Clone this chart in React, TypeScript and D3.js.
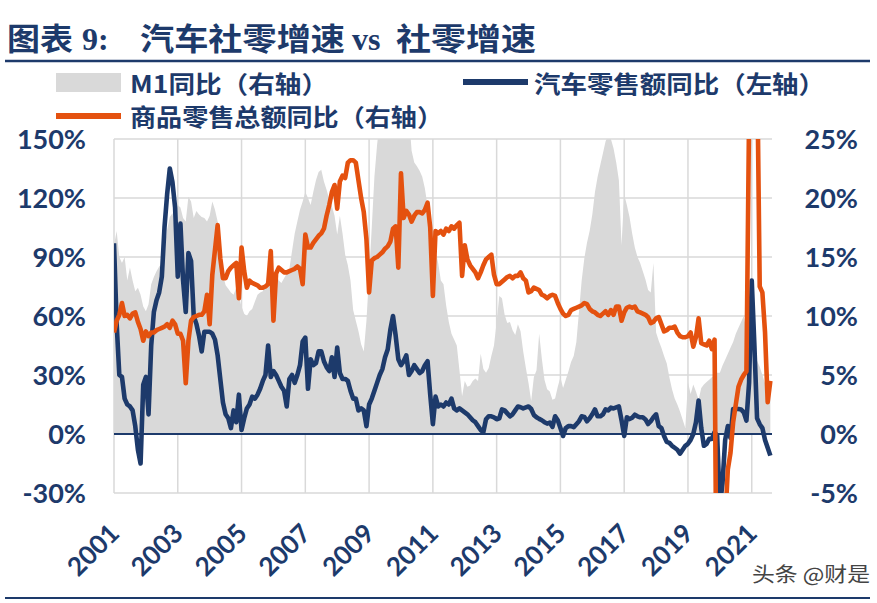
// App.tsx
import React from "react";
import * as d3 from "d3";

// monthly points, Jan 2001 … Aug 2021 (one row per year)
const autoSalesYoY = [
  97, 56, 30, 29, 18, 15, 14, 12, 4, -8, -15, 25,
  29, 10, 45, 62, 68, 72, 80, 105, 122, 135, 128, 115,
  80, 107, 78, 62, 92, 88, 60, 56, 50, 42, 52, 52,
  52, 51, 48, 40, 28, 16, 10, 8, 3, 12, 6, 20,
  2, 8, 13, 15, 19, 18, 20, 23, 27, 30, 45, 29,
  32, 30, 27, 24, 22, 14, 28, 30, 26, 30, 35, 47,
  49, 23, 38, 35, 36, 42, 42, 37, 34, 32, 39, 29,
  44, 31, 28, 28, 27, 22, 18, 18, 12, 13, 12, 4,
  15, 18, 22, 26, 30, 33, 39, 43, 53, 60, 50, 38,
  35, 37, 40, 30, 32, 35, 33, 31, 32, 35, 37, 20,
  5, 19, 14, 15, 14, 16, 15, 18, 13, 12, 13, 12,
  11, 10, 8.5, 7, 6, 4, 2, 1, 7.5, 9, 9, 8.5,
  7.5, 8, 12.5, 12, 10.5, 9, 10, 12, 14, 13.6, 13, 13.5,
  14, 12.7, 9.7, 8.5, 7.7, 7, 6, 5.3, 5.8, 3.6, 9, 7,
  3, -1, 3, 4, 4, 3.5, 5, 6.5, 9, 8.7, 6.5, 8,
  10, 12.5, 9, 9, 10, 12.5, 12, 13.4, 13, 13.5, 14, 7,
  -1, 8.5, 7.6, 8.3, 9.8, 9, 8.5, 8.5, 7.4, 5.1, 6.5, 8.5,
  10, 4, 3, -1, -4, -4.5, -6, -7, -8, -10, -8, -6,
  -5, -3, 0, 6, 17, 3, -6, -5, -2.5, -2.5, 1, -1,
  -37, -25, -3, 4, -2, 12.7, 12.7, 12.7, 12.5, 11, 6.8, 26,
  78, 45, 8, 5, 3, -3, -7, -11,
];

const retailSalesYoY = [
  8.6, 9.6, 10.1, 11.1, 10.0, 10.1, 9.8, 10.2, 10.3, 9.5, 8.9, 7.9,
  8.7, 8.3, 8.6, 8.6, 8.8, 8.9, 9.0, 9.1, 9.3, 9.0, 9.6, 9.3,
  8.5, 8.5, 7.9, 4.3, 7.9, 9.6, 9.9, 10.0, 10.1, 10.1, 10.4, 11.8,
  9.3, 13.5, 15.6, 17.7, 14.9, 13.2, 13.2, 13.8, 14.1, 14.3, 14.5, 11.5,
  15.8, 13.8, 12.4, 13.0, 12.8, 12.7, 12.6, 12.4, 12.4, 12.5, 12.7, 15.5,
  9.6, 13.6, 14.1, 13.9, 13.7, 13.7, 13.8, 13.9, 14.0, 14.2, 14.0, 12.7,
  16.9, 15.8, 15.8, 16.2, 16.5, 16.8, 17.0, 17.4, 18.5, 19.4, 20.5, 21.1,
  19.1, 21.4, 21.9, 21.7, 23.0, 23.2, 23.2, 23.0, 21.5, 20.0, 18.8, 16.5,
  12.0, 14.7, 14.9, 15.0, 15.2, 15.4, 15.7, 15.9, 16.3, 17.4, 17.6, 14.1,
  22.1, 18.3, 18.9, 18.6, 18.0, 18.5, 18.8, 18.8, 18.7, 19.0, 19.6, 17.5,
  11.7, 17.2, 17.0, 17.2, 16.9, 17.4, 17.2, 17.6, 17.4, 17.7, 17.9, 13.4,
  16.0, 14.8, 14.3, 14.0, 13.7, 13.2, 13.7, 14.3, 14.8, 15.0, 15.2, 13.5,
  12.7, 12.7, 12.9, 13.1, 13.3, 13.4, 13.2, 13.4, 13.4, 13.7, 13.2, 13.0,
  12.0, 12.1, 12.4, 12.3, 12.2, 11.8, 11.7, 11.5, 11.7, 11.8, 11.7, 11.1,
  10.6, 10.2, 10.0, 10.1, 10.5, 10.6, 10.7, 10.8, 10.9, 11.1, 11.0, 10.6,
  10.4, 10.3, 10.1, 10.0, 10.2, 10.4, 10.1, 10.5, 10.1, 10.8, 10.8, 9.6,
  10.3, 10.7, 10.8, 10.7, 10.8, 10.4, 10.3, 10.2, 10.1, 9.9, 9.4, 9.5,
  9.8, 9.9, 9.3, 8.7, 8.8, 9.0, 9.0, 9.1, 8.6, 8.3, 8.2, 8.2,
  8.3, 8.6, 7.4, 8.2, 9.8, 7.7, 7.6, 7.5, 7.9, 7.2, 8.0, -20.5,
  -20.5, -15.8, -7.5, -3.0, -1.6, 1.0, 2.5, 4.0, 4.6, 5.0, 5.3, 27,
  34.2, 34.0, 32.0, 12.5, 12.0, 8.6, 2.7, 4.5,
];

const m1YoY = [
  16.0, 17.2, 15.0, 14.5, 15.0, 13.0, 14.1, 13.0, 12.1, 12.4, 11.8, 10.8,
  10.4, 11.0, 12.7, 13.3, 13.8, 14.2, 14.4, 15.8, 17.3, 18.4, 18.7, 17.2,
  19.4, 19.2, 18.3, 18.0, 20.1, 19.7, 18.3, 18.9, 18.6, 18.4, 18.3, 18.0,
  18.5, 19.7, 19.0, 18.0, 15.5, 13.5, 12.6, 12.3, 12.0, 11.8, 12.4, 11.6,
  10.8, 10.2, 10.0, 10.4, 10.6, 11.2, 11.8, 12.0, 12.1, 12.8, 13.1, 13.5,
  13.8, 13.5, 13.0, 12.8, 13.2, 13.6, 14.0, 15.5, 17.0, 18.0, 19.0, 19.7,
  20.5, 20.0, 19.4, 20.5, 21.5, 22.2, 22.4, 21.4, 20.7, 19.9, 19.3, 18.5,
  16.9, 18.5, 17.0, 15.2, 14.3, 13.0, 10.5, 9.6, 8.7, 7.6, 7.0, 9.6,
  13.5, 17.5, 21.8, 24.5, 26.5, 27.5, 28.5, 29.5, 32.0, 34.6, 32.4, 39.0,
  35.0, 30.0, 29.9, 27.0, 24.0, 23.0, 22.7, 22.3, 21.8, 20.8, 19.3, 17.8,
  16.5, 15.5, 14.5, 13.0, 12.7, 10.9, 9.5, 8.5, 8.0, 7.5, 5.4, 3.2,
  4.5, 4.0, 4.1, 4.5, 4.7, 4.5, 6.8, 5.5, 5.2, 5.6, 6.6, 7.5,
  9.5, 11.7, 11.5, 10.1, 9.4, 9.5, 8.8, 8.4, 9.3, 8.7, 7.0, 5.6,
  4.3, 2.8, 4.8, 5.4, 8.5, 6.4, 4.6, 3.8, 3.6, 2.9, 3.0, 4.0,
  4.8, 3.9, 4.6, 5.3, 6.1, 6.6, 7.8, 10.4, 13.0, 14.9, 16.2, 17.2,
  18.6, 20.5, 21.8, 22.8, 23.8, 24.8, 25.3, 25.0, 24.2, 23.0, 21.5, 16.0,
  20.3, 19.4, 18.4, 17.0, 15.8, 15.0, 14.5, 13.8, 13.1, 12.2, 12.0, 14.5,
  8.6, 7.9, 7.3, 6.6, 6.0, 4.8, 3.8, 3.0, 2.5, 1.9, 1.2, 0.5,
  4.4, 3.4, 4.2, 3.6, 2.9, 3.9, 4.2, 4.4, 4.6, 4.8, 5.0, 5.2,
  5.2, 5.8, 6.3, 6.8, 7.3, 7.8, 8.5, 9.0, 9.5, 10.0, 8.8, 7.5,
  7.2, 6.8, 6.2, 5.7, 5.0, 4.3, 4.0, 4.4,
];

const leftTicks = [-30, 0, 30, 60, 90, 120, 150];
const rightTicks = [-5, 0, 5, 10, 15, 20, 25];
const yearLabels = ["2001", "2003", "2005", "2007", "2009", "2011", "2013", "2015", "2017", "2019", "2021"];

const W = 877;
const H = 603;
const PLOT = { left: 114, right: 773, top: 139, bottom: 493 };

const NAVY = "#1d3a6b";
const ORANGE = "#e4510f";
const GREY = "#d9d9d9";
const NUM_FONT = "Lato, 'Open Sans', sans-serif";
const CJK_FONT = "'Noto Sans CJK SC', sans-serif";

export default function App() {
  const xScale = d3.scaleLinear().domain([0, 248]).range([PLOT.left, PLOT.right]);
  const yLeft = d3.scaleLinear().domain([-30, 150]).range([PLOT.bottom, PLOT.top]);
  const yRight = d3.scaleLinear().domain([-5, 25]).range([PLOT.bottom, PLOT.top]);

  const m1Area = d3
    .area<number>()
    .x((_, i) => xScale(i))
    .y0(yRight(0))
    .y1((d) => yRight(d))(m1YoY);

  const autoLine = d3
    .line<number>()
    .x((_, i) => xScale(i))
    .y((d) => yLeft(d))(autoSalesYoY);

  const retailLine = d3
    .line<number>()
    .x((_, i) => xScale(i))
    .y((d) => yRight(d))(retailSalesYoY);

  const gridRight = PLOT.right - 1;

  return (
    <svg
      width={W}
      height={H}
      style={{ position: "absolute", left: 0, top: 0, background: "#fff" }}
    >
      <defs>
        <clipPath id="plot-clip">
          <rect
            x={PLOT.left}
            y={PLOT.top}
            width={PLOT.right - PLOT.left}
            height={PLOT.bottom - PLOT.top}
          />
        </clipPath>
      </defs>

      {/* title */}
      <g fill={NAVY} fontWeight="bold">
        <text x={7} y={50} fontFamily={CJK_FONT} fontSize={31} textLength={66} lengthAdjust="spacingAndGlyphs">
          图表
        </text>
        <text x={82} y={50} fontFamily="'Liberation Serif', serif" fontSize={32}>
          9:
        </text>
        <text x={140} y={50} fontFamily={CJK_FONT} fontSize={31} textLength={205} lengthAdjust="spacingAndGlyphs">
          汽车社零增速
        </text>
        <text x={352} y={50} fontFamily="'Liberation Serif', serif" fontSize={32}>
          vs
        </text>
        <text x={396} y={50} fontFamily={CJK_FONT} fontSize={31} textLength={140} lengthAdjust="spacingAndGlyphs">
          社零增速
        </text>
      </g>
      <line x1={5} x2={870} y1={61} y2={61} stroke={NAVY} strokeWidth={2.5} />

      {/* legend */}
      <g fontFamily={CJK_FONT} fontWeight="bold" fontSize={24} fill={NAVY}>
        <rect x={56} y={73} width={65} height={19} fill={GREY} />
        <text x={130} y={93} textLength={198} lengthAdjust="spacingAndGlyphs">
          M1同比（右轴）
        </text>
        <line x1={463} x2={528} y1={82} y2={82} stroke={NAVY} strokeWidth={6} />
        <text x={534} y={93} textLength={291} lengthAdjust="spacingAndGlyphs">
          汽车零售额同比（左轴）
        </text>
        <line x1={56} x2={121} y1={116} y2={116} stroke={ORANGE} strokeWidth={6} />
        <text x={130} y={126} textLength={313} lengthAdjust="spacingAndGlyphs">
          商品零售总额同比（右轴）
        </text>
      </g>

      {/* grid */}
      <g stroke={GREY} strokeWidth={1.5}>
        {leftTicks.map((t) => (
          <line key={t} x1={PLOT.left} x2={gridRight} y1={yLeft(t)} y2={yLeft(t)} />
        ))}
        {yearLabels.map((y, j) => (
          <line key={y} x1={xScale(j * 24)} x2={xScale(j * 24)} y1={PLOT.top} y2={PLOT.bottom} />
        ))}
      </g>

      {/* series */}
      <g clipPath="url(#plot-clip)">
        <path d={m1Area ?? ""} fill={GREY} />
        <line x1={PLOT.left} x2={gridRight} y1={yLeft(0)} y2={yLeft(0)} stroke={NAVY} strokeWidth={2} />
        <path d={autoLine ?? ""} fill="none" stroke={NAVY} strokeWidth={4.6} strokeLinejoin="round" />
        <path d={retailLine ?? ""} fill="none" stroke={ORANGE} strokeWidth={4.6} strokeLinejoin="round" />
      </g>

      {/* axes labels */}
      <g fontFamily={NUM_FONT} fontWeight="bold" fontSize={27} fill={NAVY}>
        {leftTicks.map((t) => (
          <text key={t} x={86} y={yLeft(t)} dy="0.36em" textAnchor="end">
            {t}%
          </text>
        ))}
        {rightTicks.map((t) => (
          <text key={t} x={858} y={yRight(t)} dy="0.36em" textAnchor="end">
            {t}%
          </text>
        ))}
      </g>
      <g fontFamily={NUM_FONT} fontWeight="bold" fontSize={26} fill={NAVY}>
        {yearLabels.map((y, j) => (
          <text
            key={y}
            textAnchor="end"
            transform={`translate(${xScale(j * 24) + 7},535) rotate(-45)`}
          >
            {y}
          </text>
        ))}
      </g>

      <text x={752} y={582} fontFamily={CJK_FONT} fontSize={20} fill="#444" textLength={118} lengthAdjust="spacingAndGlyphs">
        头条 @财是
      </text>
      <line x1={5} x2={870} y1={598} y2={598} stroke={NAVY} strokeWidth={2} />
    </svg>
  );
}
